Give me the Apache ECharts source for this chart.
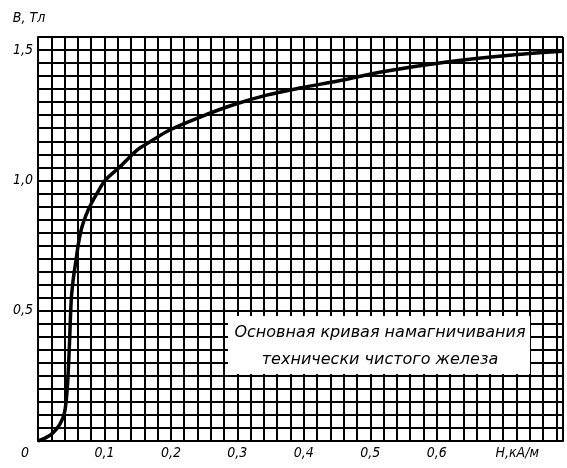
<!DOCTYPE html>
<html>
<head>
<meta charset="utf-8">
<script src="https://cdn.jsdelivr.net/npm/echarts@6/dist/echarts.min.js"></script>
<style>
  html, body { margin: 0; padding: 0; background: #fff; }
</style>
</head>
<body>
<div id="myChart1" style="width: 567px; height: 468px;"></div>
<script>
// напряжённость поля H, кА/м
var hData = [0, 0.01, 0.022, 0.033, 0.04, 0.044, 0.047, 0.05, 0.053, 0.057, 0.061, 0.066, 0.072, 0.08,
  0.089, 0.101, 0.123, 0.149, 0.168, 0.198, 0.244, 0.293, 0.344, 0.394, 0.459, 0.514, 0.615, 0.714, 0.79];
// индукция B, Тл
var bData = [0, 0.01, 0.03, 0.065, 0.11, 0.2, 0.35, 0.54, 0.62, 0.69, 0.76, 0.82, 0.865, 0.91,
  0.951, 1.0, 1.051, 1.116, 1.147, 1.193, 1.243, 1.289, 1.327, 1.354, 1.385, 1.415, 1.454, 1.481, 1.495];
var xLabels = ["0", "0,1", "0,2", "0,3", "0,4", "0,5", "0,6", "H,кА/м"];
var yLabels = ["", "0,5", "1,0", "1,5"];
var noteLines = ["Основная кривая намагничивания", "технически чистого железа"];

var fontFam = "'DejaVu Sans Condensed', 'DejaVu Sans'";
var noteFont = "italic 16px 'DejaVu Sans'";
var myChart = echarts.init(document.getElementById("myChart1"));

var points = hData.map(function (h, i) { return [h, bData[i]]; });

var option = {
  animation: false,
  grid: { left: 38, right: 4, top: 37, bottom: 27 },
  xAxis: {
    type: "value",
    min: 0,
    max: 0.79,
    interval: 0.02,
    axisLine: { lineStyle: { color: "#000", width: 2 } },
    axisTick: { show: false },
    axisLabel: {
      margin: 5,
      color: "#000",
      fontFamily: fontFam,
      fontStyle: "italic",
      fontSize: 14,
      showMaxLabel: false,
      formatter: function (v) {
        var k = Math.round(v * 10);
        if (Math.abs(v * 10 - k) > 1e-6) return "";
        if (k === 0) return "{z|" + xLabels[0] + "}";
        if (k === 7) return "{u|" + xLabels[7] + "}";
        return xLabels[k] || "";
      },
      rich: {
        z: { padding: [0, 26, 0, 0], fontFamily: fontFam, fontStyle: "italic", fontSize: 14 },
        u: { padding: [0, 0, 0, 28], fontFamily: fontFam, fontStyle: "italic", fontSize: 14 }
      }
    },
    splitLine: { show: true, lineStyle: { color: "#000", width: 2 } }
  },
  yAxis: {
    type: "value",
    min: 0,
    max: 1.55,
    interval: 0.05,
    name: "B, Тл",
    nameLocation: "end",
    nameGap: 12,
    nameTextStyle: {
      color: "#000",
      fontFamily: fontFam,
      fontStyle: "italic",
      fontSize: 14,
      align: "center",
      padding: [0, 18, 0, 0]
    },
    axisLine: { show: true, lineStyle: { color: "#000", width: 2 } },
    axisTick: { show: false },
    axisLabel: {
      margin: 5,
      color: "#000",
      fontFamily: fontFam,
      fontStyle: "italic",
      fontSize: 14,
      formatter: function (v) {
        var k = Math.round(v * 2);
        if (Math.abs(v * 2 - k) > 1e-6) return "";
        return yLabels[k] || "";
      }
    },
    splitLine: { show: true, lineStyle: { color: "#000", width: 2 } }
  },
  series: [
    {
      type: "line",
      data: points,
      smooth: 0.3,
      showSymbol: false,
      lineStyle: { color: "#000", width: 3.5 },
      z: 5
    }
  ],
  graphic: [
    {
      type: "rect",
      left: 228,
      top: 316,
      z: 100,
      shape: { width: 302, height: 58 },
      style: { fill: "#fff" }
    },
    {
      type: "text",
      x: 380,
      y: 333,
      z: 101,
      style: { text: noteLines[0], fill: "#000", font: noteFont, textAlign: "center", textVerticalAlign: "middle" }
    },
    {
      type: "text",
      x: 380,
      y: 360,
      z: 101,
      style: { text: noteLines[1], fill: "#000", font: noteFont, textAlign: "center", textVerticalAlign: "middle" }
    }
  ]
};
myChart.setOption(option);
</script>
</body>
</html>
